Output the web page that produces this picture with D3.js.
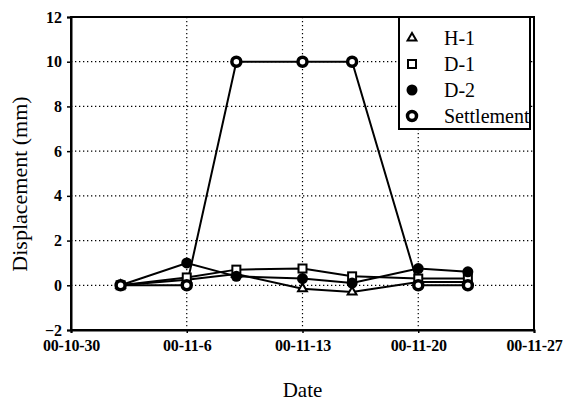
<!DOCTYPE html>
<html lang="en">
<head>
<meta charset="UTF-8">
<script src="https://d3js.org/d3.v7.min.js"></script>
<style>
  body { margin: 0; background: white; }
  svg text { font-family: "Liberation Serif", "DejaVu Serif", serif; fill: #000; }
</style>
</head>
<body>
<div id="chart"></div>
<script>
// ---- data ----
const dates = ["2000-11-02", "2000-11-06", "2000-11-09", "2000-11-13", "2000-11-16", "2000-11-20", "2000-11-23"];
const h1 = [0, 0.25, 0.5, -0.15, -0.3, 0.15, 0.15];
const d1 = [0, 0.35, 0.7, 0.75, 0.4, 0.3, 0.3];
const d2 = [0, 1.0, 0.4, 0.3, 0.1, 0.75, 0.6];
const settlement = [0, 0, 10, 10, 10, 0, 0];
const seriesNames = ["H-1", "D-1", "D-2", "Settlement"];
const yTicks = [-2, 0, 2, 4, 6, 8, 10, 12];
const xTickDates = ["2000-10-30", "2000-11-06", "2000-11-13", "2000-11-20", "2000-11-27"];

const W = 566, H = 405;
const margin = { top: 17, right: 32, bottom: 75, left: 71 };

const parse = d3.timeParse("%Y-%m-%d");
const fmt = d3.timeFormat("%y-%m-%-d");

const svg = d3.select("#chart").append("svg")
  .attr("width", W).attr("height", H);

const x = d3.scaleTime()
  .domain([parse("2000-10-30"), parse("2000-11-27")])
  .range([margin.left, W - margin.right]);
const y = d3.scaleLinear()
  .domain([-2, 12])
  .range([H - margin.bottom, margin.top]);

// gridlines (dotted)
const grid = svg.append("g").attr("stroke", "#000").attr("stroke-width", 1.2)
  .attr("stroke-dasharray", "1.3,2.7");
grid.selectAll("line.h").data(yTicks.filter(v => v > -2 && v < 12)).enter()
  .append("line")
  .attr("x1", margin.left).attr("x2", W - margin.right)
  .attr("y1", d => y(d)).attr("y2", d => y(d));
grid.selectAll("line.v").data(xTickDates.slice(1, -1)).enter()
  .append("line")
  .attr("x1", d => x(parse(d))).attr("x2", d => x(parse(d)))
  .attr("y1", margin.top).attr("y2", H - margin.bottom);

// axes
const yAxis = d3.axisLeft(y).tickValues(yTicks).tickSize(4).tickPadding(5);
const xAxis = d3.axisBottom(x).tickValues(xTickDates.map(parse)).tickFormat(fmt).tickSize(3).tickPadding(7);

const gy = svg.append("g").attr("transform", `translate(${margin.left},0)`).call(yAxis);
const gx = svg.append("g").attr("transform", `translate(0,${H - margin.bottom})`).call(xAxis);
[gx, gy].forEach(g => {
  g.attr("font-family", null).attr("font-size", null);
  g.select(".domain").attr("stroke", "#000").attr("stroke-width", 2);
  g.selectAll(".tick line").attr("stroke", "#000").attr("stroke-width", 1.5);
  g.selectAll(".tick text").attr("fill", "#000")
    .style("font-size", "16px").style("font-weight", "bold");
});
gx.selectAll(".tick text").attr("letter-spacing", "-0.2px");

// plot frame (top/right)
svg.append("rect")
  .attr("x", margin.left).attr("y", margin.top)
  .attr("width", W - margin.right - margin.left)
  .attr("height", H - margin.bottom - margin.top)
  .attr("fill", "none").attr("stroke", "#000").attr("stroke-width", 2);

// axis titles
svg.append("text")
  .attr("transform", `translate(22,184) rotate(-90)`)
  .attr("text-anchor", "middle").attr("dominant-baseline", "middle")
  .style("font-size", "22px").text("Displacement (mm)");
svg.append("text")
  .attr("x", (margin.left + W - margin.right) / 2).attr("y", 397)
  .attr("text-anchor", "middle")
  .style("font-size", "21px").text("Date");

// series
const series = [
  { name: seriesNames[0], values: h1, shape: "triangle" },
  { name: seriesNames[1], values: d1, shape: "square" },
  { name: seriesNames[2], values: d2, shape: "dot" },
  { name: seriesNames[3], values: settlement, shape: "ring" }
];

const line = d3.line().x(d => x(d.date)).y(d => y(d.value));

function drawMarker(g, shape) {
  if (shape === "triangle") {
    g.append("path").attr("d", d3.symbol(d3.symbolTriangle, 34)())
      .attr("fill", "white").attr("stroke", "#000").attr("stroke-width", 2);
  } else if (shape === "square") {
    g.append("rect").attr("x", -4).attr("y", -4).attr("width", 8).attr("height", 8)
      .attr("fill", "white").attr("stroke", "#000").attr("stroke-width", 2);
  } else if (shape === "dot") {
    g.append("circle").attr("r", 5.5).attr("fill", "#000");
  } else {
    g.append("circle").attr("r", 4.5).attr("fill", "white")
      .attr("stroke", "#000").attr("stroke-width", 3.5);
  }
}

series.forEach(s => {
  const pts = dates.map((d, i) => ({ date: parse(d), value: s.values[i] }));
  svg.append("path").datum(pts)
    .attr("fill", "none").attr("stroke", "#000").attr("stroke-width", 2)
    .attr("d", line);
});
series.forEach(s => {
  const pts = dates.map((d, i) => ({ date: parse(d), value: s.values[i] }));
  svg.append("g").selectAll("g").data(pts).enter().append("g")
    .attr("transform", d => `translate(${x(d.date)},${y(d.value)})`)
    .each(function () { drawMarker(d3.select(this), s.shape); });
});

// legend
const legend = svg.append("g");
legend.append("rect")
  .attr("x", 399).attr("y", margin.top).attr("width", 131).attr("height", 112)
  .attr("fill", "white").attr("stroke", "#000").attr("stroke-width", 2);
series.forEach((s, i) => {
  const cy = 38 + i * 26;
  const g = legend.append("g").attr("transform", `translate(412,${cy})`);
  drawMarker(g, s.shape);
  legend.append("text").attr("x", 444).attr("y", cy + 7)
    .style("font-size", "20px").text(s.name);
});
</script>
</body>
</html>
